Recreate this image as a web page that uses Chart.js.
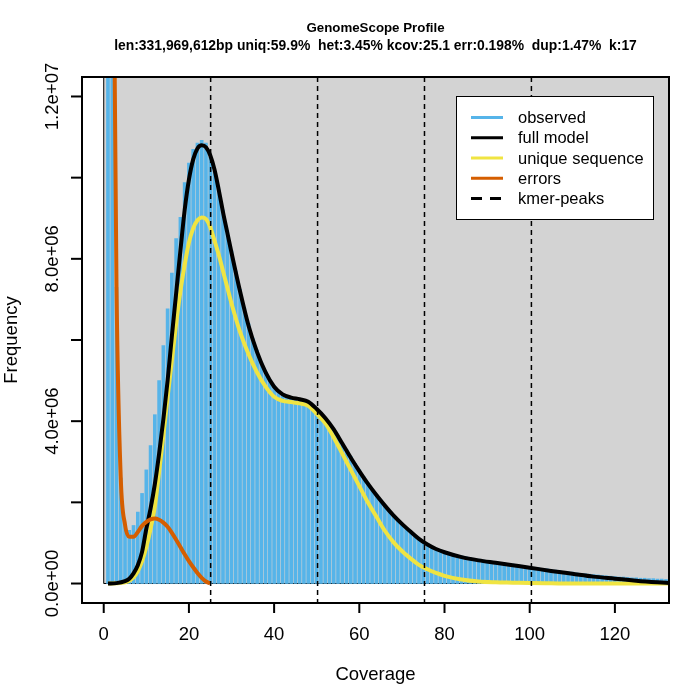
<!DOCTYPE html>
<html>
<head>
<meta charset="utf-8">
<script src="https://cdn.jsdelivr.net/npm/chart.js@4.4.1/dist/chart.umd.min.js"></script>
<style>
html, body { margin: 0; padding: 0; background: #fff; }
</style>
</head>
<body>
<canvas id="chart" width="683" height="692"></canvas>
<script>
// values in millions of k-mers
var coverage = [];
for (var i = 1; i <= 133; i++) coverage.push(i);
var observed = [
    60, 22, 7.3, 2.6, 1.45, 1.31, 1.43, 1.76, 2.22, 2.8,
    3.4, 4.16, 5.0, 5.86, 6.77, 7.65, 8.5, 9.02, 9.88, 10.36,
    10.7, 10.85, 10.92, 10.85, 10.5, 10.15, 9.7, 9.2, 8.7, 8.2,
    7.7, 7.25, 6.8, 6.4, 6.05, 5.75, 5.45, 5.22, 5.02, 4.88,
    4.76, 4.68, 4.62, 4.58, 4.56, 4.53, 4.5, 4.45, 4.38, 4.3,
    4.2, 4.08, 3.95, 3.8, 3.63, 3.46, 3.3, 3.13, 2.96, 2.8,
    2.64, 2.48, 2.33, 2.2, 2.06, 1.93, 1.8, 1.68, 1.57, 1.47,
    1.37, 1.28, 1.19, 1.11, 1.04, 0.98, 0.92, 0.87, 0.83, 0.79,
    0.76, 0.73, 0.7, 0.68, 0.66, 0.64, 0.62, 0.6, 0.58, 0.57,
    0.55, 0.54, 0.52, 0.51, 0.49, 0.48, 0.46, 0.45, 0.43, 0.42,
    0.4, 0.39, 0.37, 0.36, 0.34, 0.33, 0.32, 0.3, 0.29, 0.28,
    0.26, 0.25, 0.24, 0.23, 0.22, 0.21, 0.2, 0.19, 0.18, 0.17,
    0.16, 0.16, 0.15, 0.14, 0.14, 0.13, 0.13, 0.12, 0.12, 0.11,
    0.11, 0.1, 0.1
];

var modelX = [1, 3, 5, 6, 7, 8, 9, 10, 11, 12, 13, 14, 15, 16, 17, 18, 19, 20, 21, 22, 23, 24, 25, 26, 27, 28, 29, 30,
    32, 34, 36, 38, 40, 42, 44, 46, 48, 50, 52, 54, 56, 58, 60, 62, 64, 66, 68, 70, 72, 74, 76, 78, 80,
    84, 88, 92, 96, 100, 105, 110, 115, 120, 125, 130, 133];
var fullModel = [0, 0.01, 0.06, 0.12, 0.25, 0.45, 0.78, 1.35, 1.85, 2.45, 3.2, 4.05, 5.0, 6.1, 7.15, 8.2, 9.2, 9.95, 10.45, 10.72, 10.8, 10.75, 10.55, 10.2, 9.7, 9.15, 8.65, 8.15,
    7.2, 6.35, 5.7, 5.2, 4.85, 4.66, 4.58, 4.54, 4.48, 4.3, 4.08, 3.8, 3.45, 3.1, 2.77, 2.46, 2.18, 1.92, 1.68, 1.47, 1.28, 1.1, 0.96, 0.85, 0.77,
    0.65, 0.57, 0.51, 0.45, 0.39, 0.31, 0.24, 0.17, 0.12, 0.07, 0.03, 0.01];
var uniqueSeq = [0, 0.005, 0.03, 0.07, 0.15, 0.3, 0.55, 0.9, 1.35, 1.9, 2.75, 3.65, 4.6, 5.5, 6.4, 7.2, 7.85, 8.4, 8.75, 8.95, 9.02, 8.98, 8.78, 8.45, 8.1, 7.7, 7.3, 6.9,
    6.2, 5.65, 5.2, 4.85, 4.6, 4.5, 4.47, 4.44, 4.38, 4.18, 3.95, 3.6, 3.2, 2.8, 2.4, 2.0, 1.65, 1.3, 1.02, 0.8, 0.62, 0.46, 0.35, 0.26, 0.19,
    0.1, 0.05, 0.03, 0.02, 0.01, 0.005, 0, 0, 0, 0, 0, 0];

var errorX = [2, 3, 4, 5, 6, 7, 8, 9, 10, 11, 12, 13, 14, 15, 16, 17, 18, 19, 20, 21, 22, 23, 24, 25];
var errors = [20, 7.3, 2.6, 1.45, 1.15, 1.15, 1.27, 1.42, 1.52, 1.58, 1.6, 1.57, 1.5, 1.4, 1.25, 1.08, 0.9, 0.72, 0.55, 0.4, 0.26, 0.14, 0.05, 0];

var kmerPeaks = [25.1, 50.2, 75.3, 100.4];

var xTicks = [0, 20, 40, 60, 80, 100, 120];
var yTicks = [0, 2, 4, 6, 8, 10, 12];
var yTickLabels = { 0: '0.0e+00', 4: '4.0e+06', 8: '8.0e+06', 12: '1.2e+07' };

var titleLine1 = 'GenomeScope Profile';
var titleLine2 = 'len:331,969,612bp uniq:59.9%  het:3.45% kcov:25.1 err:0.198%  dup:1.47%  k:17';
var legendLabels = ['observed', 'full model', 'unique sequence', 'errors', 'kmer-peaks'];
var legendColors = ['#56B4E9', '#000000', '#F0E442', '#D55E00', '#000000'];

var FONT = '"Liberation Sans", Arial, Helvetica, sans-serif';

function pts(xs, ys) {
    return xs.map(function(x, i) { return { x: x, y: ys[i] }; });
}

var rPlot = {
    id: 'rplot',
    beforeDatasetsDraw: function(chart) {
        var ctx = chart.ctx, a = chart.chartArea;
        var x0 = chart.scales.x.getPixelForValue(0), y0 = chart.scales.y.getPixelForValue(0);
        ctx.save();
        ctx.beginPath(); ctx.rect(a.left, a.top, a.right - a.left, a.bottom - a.top); ctx.clip();
        ctx.fillStyle = '#d3d3d3';
        ctx.fillRect(x0, a.top, a.right - x0, y0 - a.top);
        ctx.strokeStyle = '#000'; ctx.lineWidth = 1;
        ctx.beginPath();
        ctx.moveTo(x0, a.top); ctx.lineTo(x0, y0); ctx.lineTo(a.right, y0);
        ctx.stroke();
        ctx.restore();
    },
    afterDatasetsDraw: function(chart) {
        var ctx = chart.ctx, a = chart.chartArea, xs = chart.scales.x, ys = chart.scales.y;
        ctx.save();
        // kmer peaks
        ctx.strokeStyle = '#000'; ctx.lineWidth = 1.5; ctx.setLineDash([5, 4]);
        kmerPeaks.forEach(function(p) {
            var px = xs.getPixelForValue(p);
            ctx.beginPath(); ctx.moveTo(px, a.top); ctx.lineTo(px, a.bottom); ctx.stroke();
        });
        ctx.setLineDash([]);

        // box
        ctx.lineWidth = 2;
        ctx.strokeRect(a.left, a.top, a.right - a.left, a.bottom - a.top);

        // x axis
        ctx.fillStyle = '#000';
        ctx.font = '18.5px ' + FONT;
        ctx.textAlign = 'center'; ctx.textBaseline = 'alphabetic';
        xTicks.forEach(function(v) {
            var px = xs.getPixelForValue(v);
            ctx.beginPath(); ctx.moveTo(px, a.bottom); ctx.lineTo(px, a.bottom + 10); ctx.stroke();
            ctx.fillText(String(v), px, 640);
        });
        // y axis
        yTicks.forEach(function(v) {
            var py = ys.getPixelForValue(v);
            ctx.beginPath(); ctx.moveTo(a.left, py); ctx.lineTo(a.left - 11, py); ctx.stroke();
            if (yTickLabels[v]) {
                ctx.save();
                ctx.translate(58, py); ctx.rotate(-Math.PI / 2);
                ctx.fillText(yTickLabels[v], 0, 0);
                ctx.restore();
            }
        });

        // axis titles
        ctx.fillText('Coverage', (a.left + a.right) / 2, 680);
        ctx.save();
        ctx.translate(17, (a.top + a.bottom) / 2); ctx.rotate(-Math.PI / 2);
        ctx.fillText('Frequency', 0, 0);
        ctx.restore();

        // main title
        ctx.font = 'bold 13.3px ' + FONT;
        ctx.fillText(titleLine1, (a.left + a.right) / 2, 32);
        ctx.font = 'bold 13.9px ' + FONT;
        ctx.fillText(titleLine2, (a.left + a.right) / 2, 50);

        // legend
        var lx = 456.5, ly = 96.5, lw = 197, lh = 123;
        ctx.fillStyle = '#fff';
        ctx.fillRect(lx, ly, lw, lh);
        ctx.lineWidth = 1; ctx.strokeStyle = '#000';
        ctx.strokeRect(lx, ly, lw, lh);
        ctx.font = '16.5px ' + FONT;
        ctx.textAlign = 'left'; ctx.textBaseline = 'middle';
        legendLabels.forEach(function(lab, i) {
            var ry = 117.5 + i * 20.25;
            ctx.strokeStyle = legendColors[i];
            ctx.lineWidth = 3;
            if (i === 4) ctx.setLineDash([11, 8]); else ctx.setLineDash([]);
            ctx.beginPath(); ctx.moveTo(471, ry); ctx.lineTo(503, ry); ctx.stroke();
            ctx.fillStyle = '#000';
            ctx.fillText(lab, 518, ry + 1);
        });
        ctx.restore();
    }
};

new Chart(document.getElementById('chart'), {
    type: 'bar',
    data: {
        datasets: [
            { type: 'line', label: 'errors', data: pts(errorX, errors), borderColor: '#D55E00', borderWidth: 4,
              pointRadius: 0, cubicInterpolationMode: 'monotone', order: 1 },
            { type: 'line', label: 'full model', data: pts(modelX, fullModel), borderColor: '#000000', borderWidth: 4,
              pointRadius: 0, cubicInterpolationMode: 'monotone', order: 2 },
            { type: 'line', label: 'unique sequence', data: pts(modelX, uniqueSeq), borderColor: '#F0E442', borderWidth: 4,
              pointRadius: 0, cubicInterpolationMode: 'monotone', order: 3 },
            { type: 'bar', label: 'observed', data: pts(coverage, observed), backgroundColor: '#56B4E9',
              barThickness: 3, order: 4 }
        ]
    },
    options: {
        responsive: false,
        animation: false,
        devicePixelRatio: 1,
        layout: { padding: { left: 82, top: 77, right: 14, bottom: 89 } },
        plugins: { legend: { display: false }, title: { display: false }, tooltip: { enabled: false } },
        scales: {
            x: { type: 'linear', min: -5.1, max: 132.7, offset: false, grid: { offset: false }, display: false },
            y: { type: 'linear', min: -0.48, max: 12.48, display: false }
        }
    },
    plugins: [rPlot]
});
</script>
</body>
</html>
